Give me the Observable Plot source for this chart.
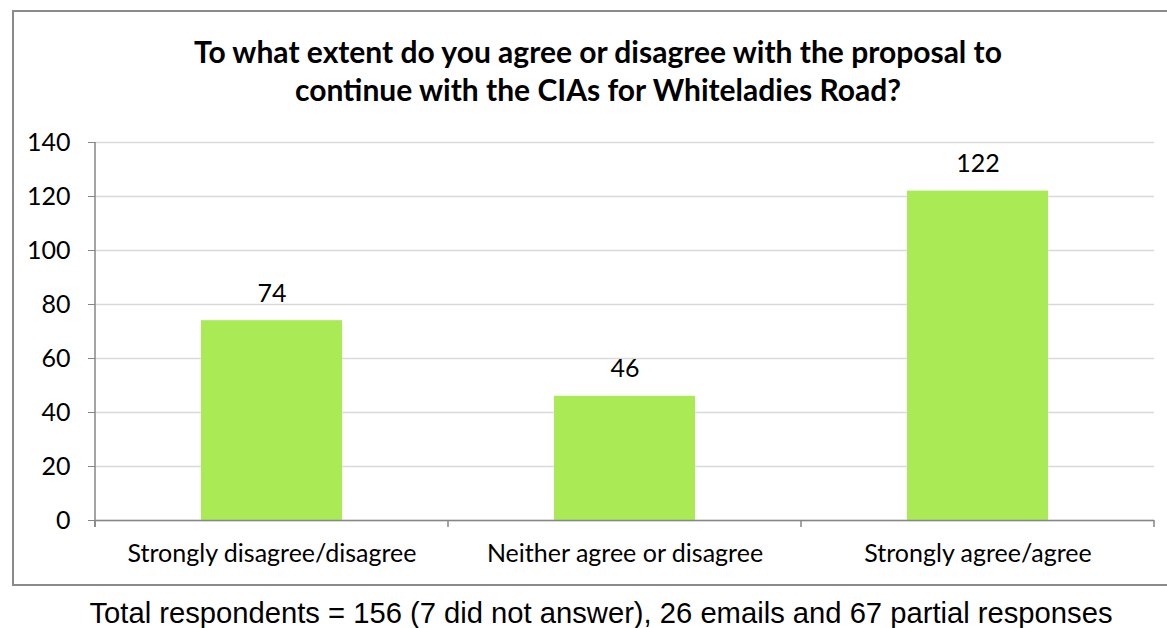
<!DOCTYPE html>
<html>
<head>
<meta charset="utf-8">
<script src="https://cdn.jsdelivr.net/npm/d3@7"></script>
<script src="https://cdn.jsdelivr.net/npm/@observablehq/plot@0.6"></script>
<style>
  html, body { margin: 0; padding: 0; background: #fff; }
  body { width: 1167px; height: 628px; position: relative; overflow: hidden; }
  #box { position: absolute; left: 12px; top: 10px; width: 1180px; height: 576px; border: 2px solid #8a8a8a; box-sizing: border-box; }
  #title { position: absolute; left: 12px; width: 1172px; top: 32px; text-align: center; font-family: Lato, sans-serif; font-weight: bold; font-size: 30px; line-height: 38px; color: #000; white-space: nowrap; }
  #chart { position: absolute; left: 0; top: 0; }
  #caption { position: absolute; left: 0; width: 1202px; top: 597px; text-align: center; font-family: "Liberation Sans", Arial, sans-serif; font-size: 29.2px; line-height: 32px; color: #000; white-space: nowrap; }
</style>
</head>
<body>
<div id="box"></div>
<div id="title">To what extent do you agree or disagree with the proposal to<br>continue with the CIAs for Whiteladies Road?</div>
<div id="chart"></div>
<div id="caption">Total respondents = 156 (7 did not answer), 26 emails and 67 partial responses</div>
<script>
const categories = ["Strongly disagree/disagree", "Neither agree or disagree", "Strongly agree/agree"];
const values = [74, 46, 122];
const yTicks = [0, 20, 40, 60, 80, 100, 120, 140];

const data = categories.map((c, i) => ({category: c, value: values[i]}));

const plot = Plot.plot({
  width: 1167,
  height: 600,
  marginTop: 142,
  marginBottom: 80,
  marginLeft: 95,
  marginRight: 13,
  style: {fontFamily: "Lato, sans-serif", fontSize: "25px", color: "#000", background: "transparent", overflow: "visible"},
  x: {domain: categories, paddingInner: 0.6, paddingOuter: 0.3, label: null},
  y: {domain: [0, 140], label: null},
  marks: [
    Plot.gridY(yTicks, {stroke: "#d9d9d9", strokeOpacity: 1, strokeWidth: 1.5}),
    Plot.barY(data, {x: "category", y: "value", fill: "#a9ea55"}),
    Plot.ruleY([0], {stroke: "#868686", strokeWidth: 1.5}),
    Plot.axisY({ticks: yTicks, tickSize: 7, tickPadding: 18, stroke: "#868686", fill: "#000", fontSize: 25, label: null}),
    Plot.axisX({tickSize: 0, tickPadding: 24, fill: "#000", fontSize: 25, label: null}),
    Plot.text(data, {x: "category", y: "value", text: d => String(d.value), dy: -27, lineAnchor: "middle", fontSize: 25, fill: "#000"})
  ]
});

document.getElementById("chart").appendChild(plot);

// axis line and category boundary ticks, using the library's scales
const xs = plot.scale("x");
const ys = plot.scale("y");
const half = (xs.step - xs.bandwidth) / 2;
const bounds = categories.map(c => xs.apply(c) - half);
bounds.push(xs.apply(categories[categories.length - 1]) + xs.bandwidth + half);
const y0 = ys.apply(0), yTop = ys.apply(140);
const svg = d3.select(plot);
const g = svg.append("g").attr("stroke", "#868686").attr("stroke-width", 1.5);
g.append("line").attr("x1", bounds[0]).attr("x2", bounds[0]).attr("y1", yTop).attr("y2", y0 + 7);
bounds.forEach(b => g.append("line").attr("x1", b).attr("x2", b).attr("y1", y0).attr("y2", y0 + 7));
</script>
</body>
</html>
